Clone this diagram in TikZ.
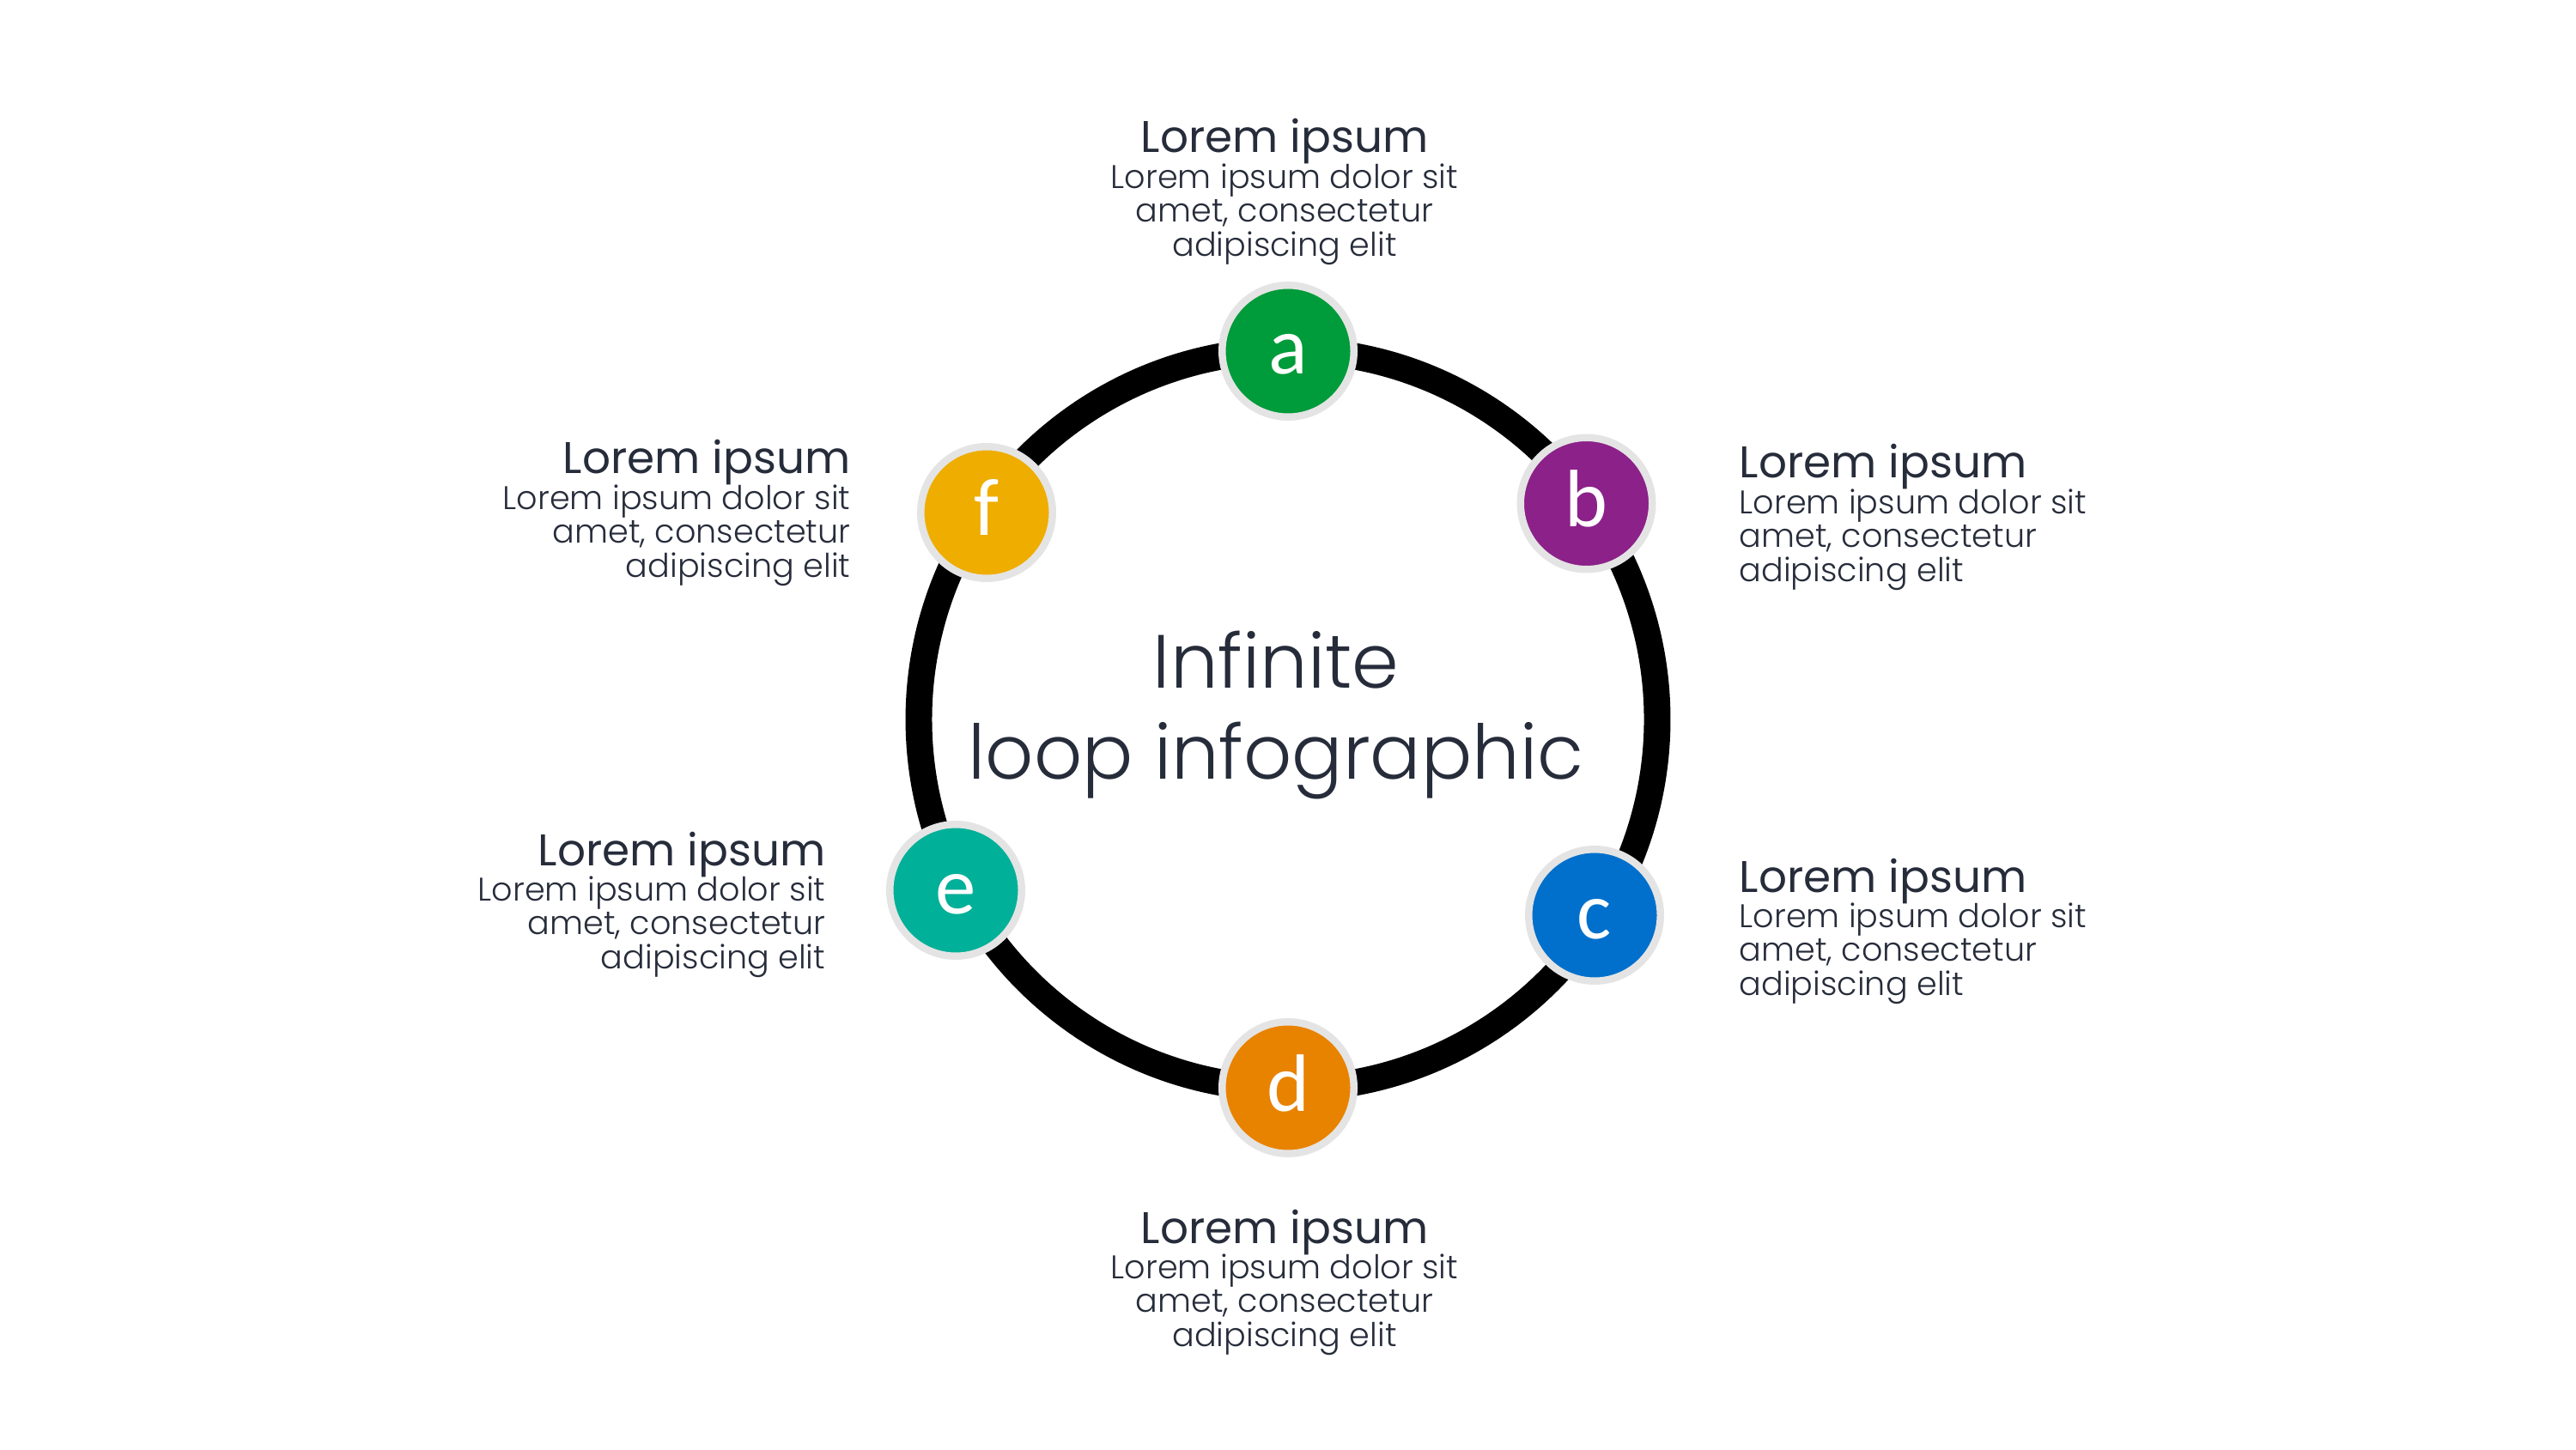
\documentclass[tikz,border=0pt]{standalone}
\usepackage{fontspec}
\setmainfont{Poppins}
\newfontfamily\lightfont{Poppins Light}
\newfontfamily\letterfont{Carlito}
\usetikzlibrary{positioning,shadows}
\definecolor{ltext}{RGB}{38,44,58}
\definecolor{lgreen}{RGB}{0,155,58}
\definecolor{lpurple}{RGB}{139,33,137}
\definecolor{lblue}{RGB}{0,112,204}
\definecolor{lorange}{RGB}{232,131,0}
\definecolor{lteal}{RGB}{0,176,152}
\definecolor{lyellow}{RGB}{239,173,0}
\definecolor{lring}{RGB}{228,228,228}

\begin{document}
\begin{tikzpicture}[
  steptitle/.style={inner sep=0pt,text=ltext,font=\fontsize{14.7}{16}\selectfont},
  stepbody/.style={inner sep=0pt,text=ltext,font=\lightfont\fontsize{10.85}{11.2}\selectfont},
  stepdot/.style={circle,minimum size=1.535cm,inner sep=0pt,fill=#1,draw=lring,
    line width=0.085cm,text=white,font=\letterfont\fontsize{27}{27}\selectfont,
    text height=0.54cm,text depth=0cm,
    drop shadow={opacity=0.18,shadow xshift=0.3pt,shadow yshift=-1pt}}
]
  \useasboundingbox (0,0) rectangle (30,16.88);
  % Loop
  \coordinate (ctr) at (15,8.5);
  \draw[line width=8.8pt] (ctr) circle (4.3);
  % Steps
  \node[stepdot=lgreen] (a) at (15.00,12.79) {a};
  \node[stepdot=lpurple] (b) at (18.475,11.015) {b};
  \node[stepdot=lblue] (c) at (18.57,6.22) {c};
  \node[stepdot=lorange] (d) at (15.00,4.21) {d};
  \node[stepdot=lteal] (e) at (11.13,6.51) {e};
  \node[stepdot=lyellow] (f) at (11.49,10.91) {f};
  % Center title
  \node[inner sep=0pt,text=ltext,align=center,anchor=base,
    font=\lightfont\fontsize{25}{29.9}\selectfont] (title) at (14.86,7.81) {Infinite\\loop infographic};
  % Texts
  \node[steptitle,anchor=base] (ta) at (14.96,15.10) {Lorem ipsum};
  \node[stepbody,align=center,below=0.12cm of ta.base,anchor=north] (da)
    {Lorem ipsum dolor sit\\amet, consectetur\\adipiscing elit};
  \node[steptitle,anchor=base west] (tb) at (20.25,11.31) {Lorem ipsum};
  \node[stepbody,align=left,below=0.12cm of tb.base west,anchor=north west] (db)
    {Lorem ipsum dolor sit\\amet, consectetur\\adipiscing elit};
  \node[steptitle,anchor=base west] (tc) at (20.25,6.49) {Lorem ipsum};
  \node[stepbody,align=left,below=0.12cm of tc.base west,anchor=north west] (dc)
    {Lorem ipsum dolor sit\\amet, consectetur\\adipiscing elit};
  \node[steptitle,anchor=base] (td) at (14.96,2.40) {Lorem ipsum};
  \node[stepbody,align=center,below=0.12cm of td.base,anchor=north] (dd)
    {Lorem ipsum dolor sit\\amet, consectetur\\adipiscing elit};
  \node[steptitle,anchor=base east] (te) at (9.62,6.80) {Lorem ipsum};
  \node[stepbody,align=right,below=0.12cm of te.base east,anchor=north east] (de)
    {Lorem ipsum dolor sit\\amet, consectetur\\adipiscing elit};
  \node[steptitle,anchor=base east] (tf) at (9.91,11.36) {Lorem ipsum};
  \node[stepbody,align=right,below=0.12cm of tf.base east,anchor=north east] (df)
    {Lorem ipsum dolor sit\\amet, consectetur\\adipiscing elit};
\end{tikzpicture}
\end{document}
